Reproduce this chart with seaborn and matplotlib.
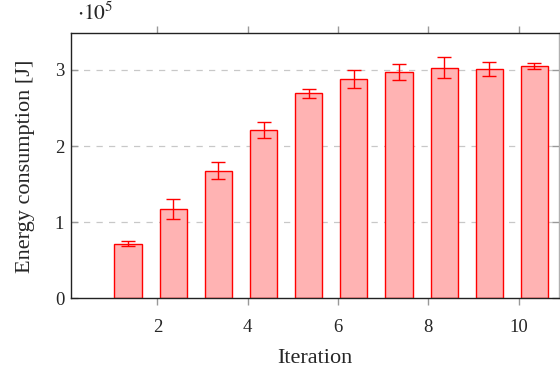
import numpy as np
import matplotlib
matplotlib.use("Agg")
import matplotlib.pyplot as plt
import seaborn as sns

# data (energy in units of 1e5 J)
iterations = [1, 2, 3, 4, 5, 6, 7, 8, 9, 10]
energy = [0.717, 1.173, 1.677, 2.21, 2.694, 2.878, 2.974, 3.03, 3.017, 3.049]
energy_err = [0.035, 0.13, 0.11, 0.10, 0.057, 0.12, 0.11, 0.135, 0.092, 0.04]
x_ticks = [2, 4, 6, 8, 10]
y_ticks = [0, 1, 2, 3]

bar_shift = 0.35  # bars sit a bit right of the integer ticks in the original

sns.set_theme(style="white")
plt.rcParams["font.family"] = ["Liberation Serif", "DejaVu Serif"]
plt.rcParams["mathtext.fontset"] = "stix"

fig = plt.figure(figsize=(5.6, 3.71), dpi=100)
ax = fig.add_axes([0.127, 0.196, 0.871, 0.714])

xpos = np.array(iterations) + bar_shift
sns.barplot(x=xpos, y=energy, native_scale=True, width=0.6, color="#ffb3b3",
            saturation=1, edgecolor="red", linewidth=1.0, errorbar=None, ax=ax)
ax.errorbar(xpos, energy, yerr=energy_err, fmt="none", ecolor="red",
            elinewidth=1.0, capsize=5, capthick=1.0, zorder=5)

ax.set_xlim(0.09, 10.89)
ax.set_ylim(0, 3.48)
ax.set_xticks(x_ticks)
ax.set_yticks(y_ticks)
ax.set_xticklabels([str(t) for t in x_ticks])
ax.set_yticklabels([str(t) for t in y_ticks])

for y in y_ticks[1:]:
    ax.axhline(y, color="#c8c8c8", lw=0.9, ls=(0, (5, 5)), zorder=0)

for side in ["left", "bottom", "top"]:
    ax.spines[side].set_color("#222222")
    ax.spines[side].set_linewidth(1.0)
ax.spines["right"].set_color("#b0b0b0")
ax.spines["right"].set_linewidth(1.0)

ax.tick_params(axis="x", which="both", direction="out", length=5, width=1,
               color="#999999", top=True, bottom=True, labelsize=13.5, pad=10)
ax.tick_params(axis="y", which="both", direction="in", length=5, width=1,
               color="#999999", left=True, right=True, labelsize=13.5, pad=5)

ax.set_xlabel("Iteration", fontsize=16, labelpad=9)
ax.set_ylabel("Energy consumption [J]", fontsize=16, labelpad=14)
ax.text(0.012, 1.03, r"$\cdot10^5$", transform=ax.transAxes, fontsize=15.5,
        ha="left", va="bottom")

fig.savefig("out.png", dpi=100)
